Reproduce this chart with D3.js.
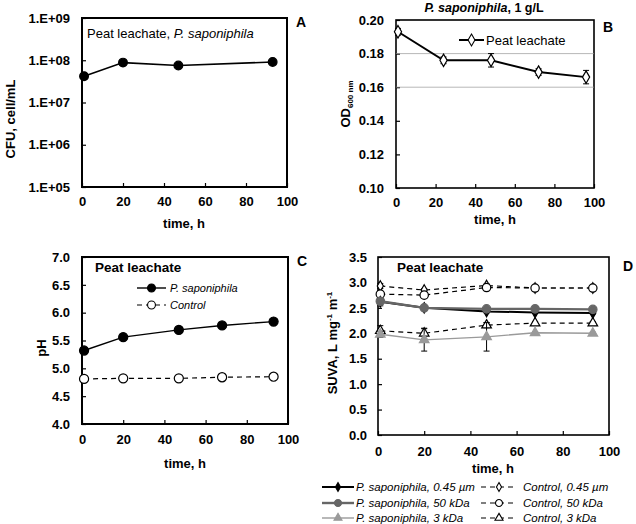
<!DOCTYPE html>
<html>
<head>
<meta charset="utf-8">
<script src="https://cdn.jsdelivr.net/npm/d3@7"></script>
<style>
  body { margin: 0; background: #fff; }
  svg { display: block; font-family: Arial, "Liberation Sans", sans-serif; }
  .tick text { font-size: 13px; font-weight: bold; fill: #000; }
  .tick line { stroke: #000; stroke-width: 1.2; }
</style>
</head>
<body>
<svg id="chart" width="636" height="524"></svg>
<script>
// ---- data ----
var timeTicks = [0, 20, 40, 60, 80, 100];

// A: CFU
var timeA = [1, 20, 47, 93];
var cfuA = [4.2e7, 8.8e7, 7.5e7, 9.1e7];
var cfuTicks = [1e5, 1e6, 1e7, 1e8, 1e9];
var cfuTickLabels = ["1.E+05", "1.E+06", "1.E+07", "1.E+08", "1.E+09"];

// B: OD600
var timeB = [1, 24, 48, 72, 96];
var odB = [0.193, 0.176, 0.176, 0.169, 0.166];
var odErrB = [0.002, 0.002, 0.004, 0.002, 0.004];
var odTicks = [0.10, 0.12, 0.14, 0.16, 0.18, 0.20];
var odGrid = [0.16, 0.18];

// C: pH
var timeC = [1, 20, 47, 68, 93];
var phSap = [5.32, 5.56, 5.69, 5.77, 5.84];
var phControl = [4.81, 4.82, 4.82, 4.84, 4.85];
var phTicks = [4.0, 4.5, 5.0, 5.5, 6.0, 6.5, 7.0];

// D: SUVA
var timeD = [1, 20, 47, 68, 93];
var suvaSap045 = [2.62, 2.50, 2.43, 2.41, 2.40];
var suvaSap50  = [2.63, 2.50, 2.48, 2.48, 2.47];
var suvaSap3   = [1.98, 1.87, 1.93, 2.01, 2.00];
var suvaCtl045 = [2.93, 2.85, 2.94, 2.89, 2.89];
var suvaCtl50  = [2.77, 2.75, 2.90, 2.89, 2.89];
var suvaCtl3   = [2.05, 2.00, 2.16, 2.20, 2.20];
var errSap045 = [0.08, 0.02, 0.03, 0.02, 0.02];
var errSap50  = [0.03, 0.02, 0.02, 0.02, 0.02];
var errSap3   = [0.06, 0.22, 0.28, 0.02, 0.02];
var errCtl045 = [0.05, 0.03, 0.03, 0.02, 0.02];
var errCtl50  = [0.03, 0.05, 0.03, 0.02, 0.02];
var errCtl3   = [0.10, 0.10, 0.05, 0.03, 0.03];
var suvaTicks = [0, 0.5, 1.0, 1.5, 2.0, 2.5, 3.0, 3.5];
var suvaNames = ["P. saponiphila, 0.45 \u00b5m", "P. saponiphila, 50 kDa", "P. saponiphila, 3 kDa",
                 "Control, 0.45 \u00b5m", "Control, 50 kDa", "Control, 3 kDa"];

var svg = d3.select("#chart");

// ---- helpers ----
function panel(box, yScale, yTicks, yFmt, yPad, xPad) {
    var g = svg.append("g");
    var x = d3.scaleLinear().domain([0, 100]).range([box.left, box.right]);
    var y = yScale.range([box.bottom, box.top]);

    g.append("g")
        .attr("transform", `translate(${box.left},0)`)
        .call(d3.axisLeft(y).tickValues(yTicks).tickFormat(yFmt).tickSize(-4).tickPadding(yPad))
        .call(a => a.select(".domain").remove());
    g.append("g")
        .attr("transform", `translate(0,${box.bottom})`)
        .call(d3.axisBottom(x).tickValues(timeTicks).tickFormat(d3.format("d")).tickSize(-4).tickPadding(xPad))
        .call(a => a.select(".domain").remove());

    g.append("rect")
        .attr("x", box.left).attr("y", box.top)
        .attr("width", box.right - box.left).attr("height", box.bottom - box.top)
        .attr("fill", "none").attr("stroke", "#000").attr("stroke-width", box.sw || 1.8);
    return {g: g, x: x, y: y};
}

function series(p, xs, ys, opt) {
    var pts = xs.map((t, i) => ({x: t, y: ys[i], e: opt.err ? opt.err[i] : 0}));
    var line = d3.line().x(d => p.x(d.x)).y(d => p.y(d.y));
    if (opt.err) {
        var eb = p.g.append("g").attr("stroke", opt.errColor || "#000").attr("stroke-width", 1);
        pts.forEach(d => {
            if (!d.e) return;
            var cx = p.x(d.x), y1 = p.y(d.y - d.e), y2 = p.y(d.y + d.e);
            eb.append("line").attr("x1", cx).attr("x2", cx).attr("y1", y1).attr("y2", y2);
            eb.append("line").attr("x1", cx - 3).attr("x2", cx + 3).attr("y1", y1).attr("y2", y1);
            eb.append("line").attr("x1", cx - 3).attr("x2", cx + 3).attr("y1", y2).attr("y2", y2);
        });
    }
    p.g.append("path").datum(pts)
        .attr("d", line)
        .attr("fill", "none")
        .attr("stroke", opt.color)
        .attr("stroke-width", opt.width)
        .attr("stroke-dasharray", opt.dash || null);
    p.g.selectAll(null).data(pts).enter().append("path")
        .attr("transform", d => `translate(${p.x(d.x)},${p.y(d.y)})`)
        .attr("d", d3.symbol().type(opt.symbol).size(opt.size))
        .attr("fill", opt.fill)
        .attr("stroke", opt.stroke)
        .attr("stroke-width", 1.2);
}

function legendItem(x1, x2, y, opt, label, tx, fs, k) {
    svg.append("line").attr("x1", x1).attr("x2", x2).attr("y1", y).attr("y2", y)
        .attr("stroke", opt.color).attr("stroke-width", opt.width)
        .attr("stroke-dasharray", opt.dash || null);
    svg.append("path")
        .attr("transform", `translate(${(x1 + x2) / 2},${y})`)
        .attr("d", d3.symbol().type(opt.symbol).size(opt.size * (k || 0.8)))
        .attr("fill", opt.fill).attr("stroke", opt.stroke).attr("stroke-width", 1.1);
    var t = svg.append("text").attr("x", tx).attr("y", y + fs * 0.36)
        .attr("font-size", fs + "px").attr("font-style", opt.italic ? "italic" : null);
    t.text(label);
}

function rotLabel(x, y, txt) {
    return svg.append("text")
        .attr("transform", `translate(${x},${y}) rotate(-90)`)
        .attr("text-anchor", "middle")
        .attr("font-size", "13px").attr("font-weight", "bold")
        .text(txt);
}

function xTitle(x, y) {
    svg.append("text").attr("x", x).attr("y", y).attr("text-anchor", "middle")
        .attr("font-size", "13px").attr("font-weight", "bold").text("time, h");
}

function letter(x, y, s) {
    svg.append("text").attr("x", x).attr("y", y)
        .attr("font-size", "14px").attr("font-weight", "bold").text(s);
}

// ---- A ----
var pA = panel({left: 82, right: 287, top: 18, bottom: 187, sw: 2},
    d3.scaleLog().domain([1e5, 1e9]), cfuTicks, (d, i) => cfuTickLabels[i], 12, 10);
series(pA, timeA, cfuA, {color: "#000", width: 1.6, symbol: d3.symbolCircle, size: 60, fill: "#000", stroke: "#000"});
var tA = svg.append("text").attr("x", 87).attr("y", 38).attr("font-size", "13px");
tA.append("tspan").text("Peat leachate, ");
tA.append("tspan").attr("font-style", "italic").text("P. saponiphila");
rotLabel(15, 119, "CFU, cell/mL");
xTitle(184, 228);
letter(296, 27, "A");

// ---- B ----
var boxB = {left: 396, right: 594, top: 20, bottom: 188, sw: 1.6};
var pB = panel(boxB, d3.scaleLinear().domain([0.10, 0.20]), odTicks, d3.format(".2f"), 12, 10);
pB.g.selectAll(".grid").data(odGrid).enter().append("line")
    .attr("x1", boxB.left).attr("x2", boxB.right)
    .attr("y1", d => pB.y(d)).attr("y2", d => pB.y(d))
    .attr("stroke", "#999").attr("stroke-width", 0.7);
var optB = {color: "#000", width: 2, symbol: d3.symbolDiamond, size: 45, fill: "#fff", stroke: "#000", err: odErrB};
series(pB, timeB, odB, optB);
legendItem(459, 484, 40, optB, "Peat leachate", 486, 13, 0.9);
var tB = svg.append("text").attr("x", 484).attr("y", 12).attr("text-anchor", "middle")
    .attr("font-size", "12.5px").attr("font-weight", "bold");
tB.append("tspan").attr("font-style", "italic").text("P. saponiphila");
tB.append("tspan").text(", 1 g/L");
var odLab = svg.append("text")
    .attr("transform", "translate(350,104) rotate(-90)")
    .attr("text-anchor", "middle").attr("font-size", "13px").attr("font-weight", "bold");
odLab.append("tspan").text("OD");
odLab.append("tspan").attr("font-size", "8px").attr("dy", 3).text("600 nm");
xTitle(495, 224);
letter(603, 32, "B");

// ---- C ----
var pC = panel({left: 82, right: 288, top: 257, bottom: 424, sw: 2},
    d3.scaleLinear().domain([4.0, 7.0]), phTicks, d3.format(".1f"), 12, 11);
var optCS = {color: "#000", width: 1.4, symbol: d3.symbolCircle, size: 65, fill: "#000", stroke: "#000", italic: true};
var optCC = {color: "#000", width: 1.2, dash: "5,4", symbol: d3.symbolCircle, size: 65, fill: "#fff", stroke: "#000", italic: true};
series(pC, timeC, phControl, optCC);
series(pC, timeC, phSap, optCS);
svg.append("text").attr("x", 95).attr("y", 272).attr("font-size", "13.5px").attr("font-weight", "bold")
    .text("Peat  leachate");
legendItem(137, 166, 288, optCS, "P. saponiphila", 170, 11, 0.75);
legendItem(137, 166, 305, optCC, "Control", 170, 11, 0.75);
rotLabel(46, 348, "pH");
xTitle(185, 468);
letter(297, 266, "C");

// ---- D ----
var pD = panel({left: 378, right: 609, top: 257, bottom: 435, sw: 1.6},
    d3.scaleLinear().domain([0, 3.5]), suvaTicks, d3.format(".1f"), 11, 12);
var optD = [
    {color: "#000", width: 2, symbol: d3.symbolDiamond, size: 32, fill: "#000", stroke: "#000", err: errSap045, italic: true},
    {color: "#666", width: 2.4, symbol: d3.symbolCircle, size: 55, fill: "#666", stroke: "#666", err: errSap50, italic: true},
    {color: "#9a9a9a", width: 1.4, symbol: d3.symbolTriangle, size: 40, fill: "#9a9a9a", stroke: "#9a9a9a", err: errSap3, italic: true},
    {color: "#000", width: 1.2, dash: "5,4", symbol: d3.symbolDiamond, size: 32, fill: "#fff", stroke: "#000", err: errCtl045, italic: true},
    {color: "#000", width: 1.2, dash: "5,4", symbol: d3.symbolCircle, size: 55, fill: "#fff", stroke: "#000", err: errCtl50, italic: true},
    {color: "#000", width: 1.2, dash: "5,4", symbol: d3.symbolTriangle, size: 40, fill: "#fff", stroke: "#000", err: errCtl3, italic: true}
];
var suvaSeries = [suvaSap045, suvaSap50, suvaSap3, suvaCtl045, suvaCtl50, suvaCtl3];
[3, 4, 5, 2, 0, 1].forEach(i => series(pD, timeD, suvaSeries[i], optD[i]));
svg.append("text").attr("x", 397).attr("y", 272).attr("font-size", "13.5px").attr("font-weight", "bold")
    .text("Peat leachate");
var legY = [487, 503, 518];
[0, 1, 2].forEach(i => legendItem(322, 354, legY[i], optD[i], suvaNames[i], 356, 11.5, 0.7));
[3, 4, 5].forEach(i => legendItem(481, 517, legY[i - 3], optD[i], suvaNames[i], 523, 11.5, 0.7));
var suvaLab = svg.append("text")
    .attr("transform", "translate(337,343) rotate(-90)")
    .attr("text-anchor", "middle").attr("font-size", "13px").attr("font-weight", "bold");
suvaLab.append("tspan").text("SUVA, L mg");
suvaLab.append("tspan").attr("font-size", "8px").attr("dy", -5).text("-1");
suvaLab.append("tspan").attr("dy", 5).text(" m");
suvaLab.append("tspan").attr("font-size", "8px").attr("dy", -5).text("-1");
xTitle(493, 473);
letter(623, 271, "D");
</script>
</body>
</html>
